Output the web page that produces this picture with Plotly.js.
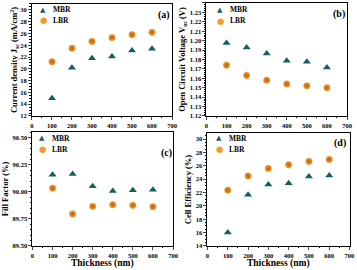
<!DOCTYPE html>
<html>
<head>
<meta charset="utf-8">
<script src="https://cdn.plot.ly/plotly-3.0.1.min.js"></script>
<style>html,body{margin:0;padding:0;background:#fff;}#chart{width:357px;height:270px;}</style>
</head>
<body>
<div id="chart"></div>
<script>
const thickness = [100, 200, 300, 400, 500, 600];
const jscMBR = [15.0, 20.2, 21.8, 22.1, 23.1, 23.4];
const jscLBR = [21.2, 23.5, 24.65, 25.3, 25.8, 26.2];
const vocMBR = [1.1974, 1.1927, 1.1864, 1.1786, 1.1775, 1.1715];
const vocLBR = [1.174, 1.163, 1.158, 1.154, 1.152, 1.150];
const ffMBR = [90.16, 90.167, 90.054, 90.008, 90.017, 90.02];
const ffLBR = [90.035, 89.797, 89.867, 89.882, 89.876, 89.864];
const effMBR = [16.02, 21.65, 23.2, 23.4, 24.4, 24.55];
const effLBR = [22.35, 24.47, 25.6, 26.15, 26.65, 26.95];
const seriesNames = ['MBR', 'LBR'];
const panelLabels = ['(a)', '(b)', '(c)', '(d)'];
const xTitle = 'Thickness (nm)';

const SERIF = 'Liberation Serif, Times New Roman, serif';
const TEAL = '#12605c';
const ORANGE = '#f59a26';

function mbr(y, xa, ya) {
  return {x: thickness, y: y, xaxis: xa, yaxis: ya, name: seriesNames[0], showlegend: false, type: 'scatter', mode: 'markers',
    marker: {symbol: 'triangle-up', size: 7, color: TEAL, line: {width: 0}}};
}
function lbr(y, xa, ya) {
  return {x: thickness, y: y, xaxis: xa, yaxis: ya, name: seriesNames[1], showlegend: false, type: 'scatter', mode: 'markers',
    marker: {symbol: 'circle', size: 6.3, color: ORANGE, gradient: {type: 'radial', color: '#b85a10'}, line: {width: 0.5, color: '#e07a10'}}};
}

const data = [
  mbr(jscMBR, 'x', 'y'), lbr(jscLBR, 'x', 'y'),
  mbr(vocMBR, 'x2', 'y2'), lbr(vocLBR, 'x2', 'y2'),
  mbr(ffMBR, 'x3', 'y3'), lbr(ffLBR, 'x3', 'y3'),
  mbr(effMBR, 'x4', 'y4'), lbr(effLBR, 'x4', 'y4')
];

const tickFont = {family: SERIF, size: 6.5, color: '#000', weight: 'bold'};
function xax(domain, anchor) {
  return {domain: domain, anchor: anchor, range: [0, 700], dtick: 100, tick0: 0,
    showline: true, mirror: true, linecolor: '#000', linewidth: 1, ticks: 'outside', ticklen: 3, tickwidth: 1,
    minor: {ticks: 'outside', ticklen: 1.5, dtick: 50, tickcolor: '#000'},
    showgrid: false, zeroline: false, tickfont: tickFont, ticklabelstandoff: 0, automargin: false};
}
function yax(domain, anchor, range, dtick, fmt, title, standoff) {
  return {domain: domain, anchor: anchor, range: range, dtick: dtick, tick0: range[0], tickformat: fmt,
    showline: true, mirror: true, linecolor: '#000', linewidth: 1, ticks: 'outside', ticklen: 3, tickwidth: 1,
    minor: {ticks: 'outside', ticklen: 1.5, tickcolor: '#000'},
    showgrid: false, zeroline: false, tickfont: tickFont, ticklabelstandoff: 0, automargin: false,
    title: {text: title, font: {family: SERIF, size: 8.5, color: '#000', weight: 'bold'}, standoff: standoff}};
}
function lab(text, x, y) {
  return {text: text, xref: 'paper', yref: 'paper', x: x / 357, y: 1 - y / 270, xanchor: 'center', yanchor: 'middle', showarrow: false,
    font: {family: SERIF, size: 10, color: '#000', weight: 'bold'}};
}
function xTitleAnn(xc) {
  return {text: xTitle, xref: 'paper', yref: 'paper', x: xc / 357, y: 0, xanchor: 'center', yanchor: 'bottom', showarrow: false,
    borderpad: 0, font: {family: SERIF, size: 9.5, color: '#000', weight: 'bold'}};
}
function legText(text, x, y) {
  return {text: text, xref: 'paper', yref: 'paper', x: x / 357, y: 1 - y / 270, xanchor: 'left', yanchor: 'middle', showarrow: false,
    font: {family: SERIF, size: 7.5, color: '#000', weight: 'bold'}};
}
function legSym(glyph, color, size, x, y) {
  return {text: glyph, xref: 'paper', yref: 'paper', x: x / 357, y: 1 - y / 270, xanchor: 'center', yanchor: 'middle', showarrow: false,
    font: {family: 'DejaVu Sans', size: size, color: color}};
}
function legendFor(xs, y1, y2) {
  return [
    legSym('\u25B2', TEAL, 7, xs, y1), legText(seriesNames[0], xs + 8, y1),
    legSym('\u25CF', ORANGE, 8.5, xs, y2), legText(seriesNames[1], xs + 8, y2)
  ];
}

const layout = {
  width: 357, height: 270, margin: {l: 0, r: 0, t: 0, b: 0}, paper_bgcolor: '#fff', plot_bgcolor: '#fff',
  showlegend: false,
  xaxis: xax([0.0896, 0.4818], 'y'),
  yaxis: yax([0.5704, 0.9852], 'x', [12, 31], 2, 'd', 'Current density J<sub>sc</sub> (mA/cm<sup>2</sup>)', 0),
  xaxis2: xax([0.5784, 0.9720], 'y2'),
  yaxis2: yax([0.5704, 0.9889], 'x2', [1.12, 1.24], 0.01, '.2f', 'Open Circuit Voltage V<sub>oc</sub> (V)', 2),
  xaxis3: xax([0.0910, 0.4846], 'y3'),
  yaxis3: yax([0.0889, 0.5111], 'x3', [89.5, 90.555], 0.25, '.2f', 'Fill Factor (%)', 2),
  xaxis4: xax([0.5812, 0.9790], 'y4'),
  yaxis4: yax([0.0889, 0.5074], 'x4', [14, 30.9], 2, 'd', 'Cell Efficiency (%)', 2),
  annotations: [
    lab(panelLabels[0], 164, 15),
    lab(panelLabels[1], 339, 14),
    lab(panelLabels[2], 166, 153),
    lab(panelLabels[3], 340, 143),
    xTitleAnn(103), xTitleAnn(278)
  ].concat(legendFor(43, 10, 20), legendFor(220, 10, 21), legendFor(42, 138, 149), legendFor(219, 138, 149))
};

Plotly.newPlot('chart', data, layout, {staticPlot: true, displayModeBar: false});
</script>
</body>
</html>
